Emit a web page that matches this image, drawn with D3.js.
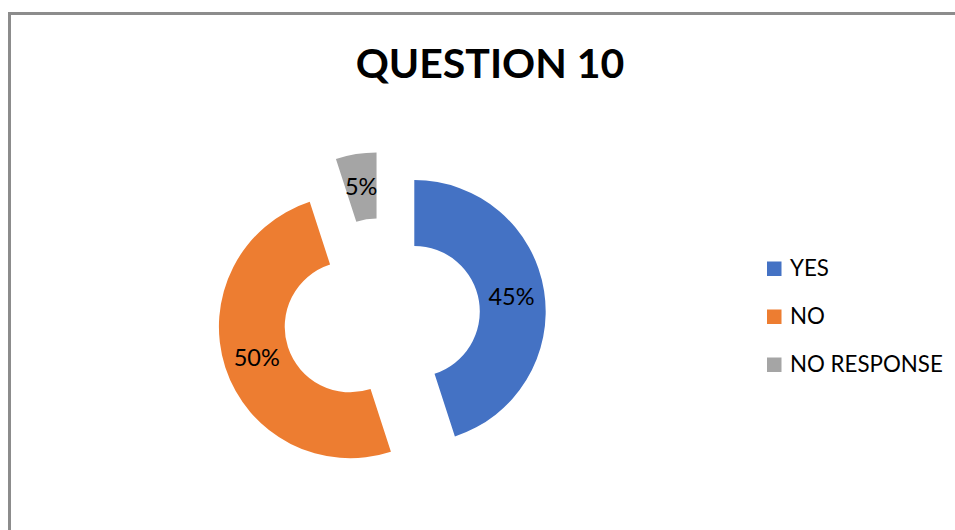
<!DOCTYPE html>
<html>
<head>
<meta charset="utf-8">
<script src="https://cdn.jsdelivr.net/npm/d3@7"></script>
<style>
  html, body { margin: 0; padding: 0; background: #fff; }
  svg { display: block; }
</style>
</head>
<body>
<svg id="chart" width="955" height="530"></svg>
<script>
// Survey answers for question 10
const categories = ["YES", "NO", "NO RESPONSE"];
const values = [45, 50, 5];
const colors = ["#4472C4", "#ED7D31", "#A5A5A5"];
const title = "QUESTION 10";

const svg = d3.select("#chart");

// chart frame (top and left edges visible)
svg.append("rect")
  .attr("x", 9.5).attr("y", 13.5)
  .attr("width", 1200).attr("height", 1200)
  .attr("fill", "#fff")
  .attr("stroke", "#8c8c8c")
  .attr("stroke-width", 3);

svg.append("text")
  .attr("x", 490).attr("y", 77.5)
  .attr("text-anchor", "middle")
  .style("font-family", "Lato, 'Open Sans', sans-serif")
  .style("font-weight", "bold")
  .style("font-size", "41px")
  .attr("fill", "#000")
  .text(title);

// exploded doughnut
const cx = 381.7, cy = 316.6;
const outerR = 131.4, innerR = 65.5, explode = 33;

const pie = d3.pie().sort(null).value(d => d.value);
const data = pie(categories.map((c, i) => ({ name: c, value: values[i], color: colors[i] })));
const arc = d3.arc().innerRadius(innerR).outerRadius(outerR);

const g = svg.append("g").attr("transform", `translate(${cx},${cy})`);

const slices = g.selectAll("g.slice")
  .data(data)
  .join("g")
  .attr("class", "slice")
  .attr("transform", d => {
    const a = (d.startAngle + d.endAngle) / 2;
    return `translate(${explode * Math.sin(a)},${-explode * Math.cos(a)})`;
  });

slices.append("path")
  .attr("d", arc)
  .attr("fill", d => d.data.color);

const total = d3.sum(values);
slices.append("text")
  .attr("transform", d => `translate(${arc.centroid(d)})`)
  .attr("dy", "0.36em")
  .attr("text-anchor", "middle")
  .style("font-family", "Lato, 'Open Sans', sans-serif")
  .style("font-size", "23.5px")
  .attr("fill", "#000")
  .text(d => Math.round(d.data.value / total * 100) + "%");

// legend
const legend = svg.append("g")
  .selectAll("g")
  .data(categories)
  .join("g")
  .attr("transform", (d, i) => `translate(767,${261.5 + i * 48})`);

legend.append("rect")
  .attr("width", 14.5).attr("height", 14.5)
  .attr("fill", (d, i) => colors[i]);

legend.append("text")
  .attr("x", 23).attr("y", 14.7)
  .style("font-family", "Lato, 'Open Sans', sans-serif")
  .style("font-size", "22.3px")
  .attr("fill", "#000")
  .text(d => d);
</script>
</body>
</html>
